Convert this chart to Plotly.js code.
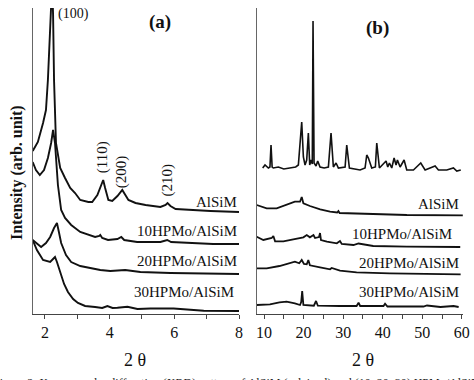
<!DOCTYPE html>
<html>
<head>
<meta charset="utf-8">
<script src="https://cdn.plot.ly/plotly-3.0.1.min.js"></script>
<style>html,body{margin:0;padding:0;background:#fff;}#chart{width:474px;height:380px;}</style>
</head>
<body>
<div id="chart"></div>
<script>
// ---------- Panel (a): low-angle XRD, 2θ 1.6–8 ----------
const a_AlSiM_x = [1.62,1.78,1.94,2.03,2.09,2.15,2.20,2.22,2.25,2.28,2.34,2.47,2.62,2.78,2.93,3.09,3.34,3.46,3.62,3.71,3.80,3.86,3.96,4.08,4.24,4.39,4.48,4.58,4.80,5.11,5.57,5.73,5.79,5.88,6.04,6.50,7.12,8.00];
const a_AlSiM_y = [163,172,191,204,234,274,310,330,300,234,171,146,136,126,121,114,112,112,119,126,134,126,114,113,118,124,119,114,111,109,107,109,111,108,105,104,103,102];

const a_10_x = [1.62,1.72,1.84,1.97,2.09,2.19,2.25,2.31,2.40,2.50,2.62,2.81,3.09,3.34,3.55,3.68,3.71,3.77,3.95,4.24,4.36,4.45,4.85,5.57,5.70,5.78,5.90,6.50,7.20,8.00];
const a_10_y = [152,144,139,144,156,171,184,171,129,104,96,89,82,79,77,78,79,76,74,75,77,74,72,72,73,74,72,71,70,70];

const a_20_x = [1.62,1.72,1.88,2.03,2.16,2.28,2.37,2.43,2.50,2.65,2.81,3.09,3.40,3.71,4.02,4.48,4.95,5.88,8.00];
const a_20_y = [74,71,67,71,77,86,91,82,71,59,52,48,46,44,43,44,42,41,40];

const a_30_x = [1.62,1.75,1.94,2.16,2.25,2.31,2.37,2.47,2.59,2.71,2.87,3.02,3.24,3.55,3.77,3.93,4.09,4.24,4.55,4.86,5.26,5.98,6.91,8.00];
const a_30_y = [74,64,54,52,55,57,52,42,30,22,15,11,8,7,6,8,6,6.3,7.3,5,5.5,5.5,3.3,3];

// ---------- Panel (b): wide-angle XRD, 2θ 8–60 ----------
const b_HPMo_x = [9.66,10.25,11.10,11.50,11.77,12.05,12.36,13.62,15.0,16.58,18.0,18.68,19.10,19.53,19.95,20.37,20.79,21.21,21.55,21.89,22.20,22.39,22.65,23.15,23.57,24.16,25.2,26.27,26.94,27.53,28.21,28.80,30.5,30.91,31.58,33.0,34.28,35.54,35.97,36.39,37.23,38.15,38.50,39.17,40.85,41.28,41.70,42.29,42.88,43.38,43.72,44.40,45.41,46.08,47.77,49.62,50.72,53.25,54.09,56.20,57.88,58.73,59.74];
const b_HPMo_y = [146,149,146,147,169,147,146,147,145,146,147,149,167,192,157,149,154,181,149,154,150,293,151,148,153,147,146,147,181,147,151,146,147,169,146,145,144,146,159,156,146,147,171,146,153,147,151,146,156,149,154,147,154,144,144,151,144,148,144,144,146,143,144];

const b_AlSiM_x = [8.15,10.67,13.2,15.7,17.8,19.1,19.53,19.95,21.6,24.2,26.7,28.5,28.8,29.1,31.75,37.6,46.1,60.25];
const b_AlSiM_y = [109,105.7,105.7,109,112.3,112.3,117,110.7,108,104.7,102.3,101.5,103,101,100.7,99.7,99,98.7];

const b_10_x = [8.15,9.83,11.94,12.36,12.8,14.9,17.4,19.95,20.8,21.6,22.5,22.9,23.9,24.16,24.4,25.9,28.4,29.2,29.65,32.6,33.9,37.6,46.1,59.6];
const b_10_y = [77.3,74,76,78,72.7,72.7,74.7,76.7,79,76.7,79,76,77,81,74,72.3,70.7,73,70,69,70.5,68,67.3,67];

const b_20_x = [8.15,10.67,13.9,16.4,17.8,18.9,19.53,20.1,20.8,21.2,21.6,24.16,26.7,27.1,29.2,33.4,41.8,59.7];
const b_20_y = [45.7,45.7,48,50.7,52.3,50.7,54,50,49.7,54,48.7,46.7,44.7,46,43.3,41.7,40.7,39.7];

const b_30_x = [8.15,11.5,13.9,15.7,17.8,19.1,19.4,19.65,19.95,22.6,23.15,23.6,29.2,33.4,33.9,34.3,40.2,40.6,41.2,50.3,51.2,54.6,57.9,59.2];
const b_30_y = [9,9.7,11.7,12.3,10.7,9,12,23,9,8.3,13,8.3,8,8,11.3,8,8,10.3,7.5,7.5,8.5,7,8,7];

// ---------- Text ----------
const a_ticks = [2,3,4,5,6,7,8];
const a_tickText = ['2','','4','','6','','8'];
const b_ticks = [10,15,20,25,30,35,40,45,50,55,60];
const b_tickText = ['10','','20','','30','','40','','50','','60'];
const seriesNamesA = ['AlSiM','10HPMo/AlSiM','20HPMo/AlSiM','30HPMo/AlSiM'];
const seriesNamesB = ['HPMo','AlSiM','10HPMo/AlSiM','20HPMo/AlSiM','30HPMo/AlSiM'];
const peakLabels = ['(100)','(110)','(200)','(210)'];
const xTitle = '2 θ';
const yTitle = 'Intensity (arb. unit)';
const panelLabels = ['(a)','(b)'];
const caption = 'Figure 2. X-ray powder diffraction (XRD) pattern of AlSiM (calcined) and (10, 20, 30) HPMo/AlSiM';

const FONT = 'Liberation Serif';

function tr(x, y, name, xa, ya, w){
  return {x:x, y:y, name:name, type:'scatter', mode:'lines', xaxis:xa, yaxis:ya,
          line:{color:'#111', width:w||1.9}, hoverinfo:'x+y+name', showlegend:false};
}

const traces = [
  tr(a_AlSiM_x, a_AlSiM_y, seriesNamesA[0], 'x', 'y'),
  tr(a_10_x, a_10_y, seriesNamesA[1], 'x', 'y'),
  tr(a_20_x, a_20_y, seriesNamesA[2], 'x', 'y'),
  tr(a_30_x, a_30_y, seriesNamesA[3], 'x', 'y'),
  tr(b_HPMo_x, b_HPMo_y, seriesNamesB[0], 'x2', 'y2', 1.6),
  tr(b_AlSiM_x, b_AlSiM_y, seriesNamesB[1], 'x2', 'y2', 1.8),
  tr(b_10_x, b_10_y, seriesNamesB[2], 'x2', 'y2', 1.8),
  tr(b_20_x, b_20_y, seriesNamesB[3], 'x2', 'y2', 1.8),
  tr(b_30_x, b_30_y, seriesNamesB[4], 'x2', 'y2', 1.8)
];

const ann = [];
function lab(text, x, y, xref, yref, opts){
  ann.push(Object.assign({text:text, x:x, y:y, xref:xref, yref:yref, showarrow:false,
    font:{family:FONT, size:15, color:'#111'}, xanchor:'right', yanchor:'middle'}, opts||{}));
}
// panel (a) series labels
lab(seriesNamesA[0], 7.99, 112, 'x', 'y');
lab(seriesNamesA[1], 7.99, 83, 'x', 'y');
lab(seriesNamesA[2], 7.99, 53, 'x', 'y');
lab(seriesNamesA[3], 7.92, 22, 'x', 'y');
// panel (b) series labels
lab(seriesNamesB[0], 60.8, 164, 'x2', 'y2');
lab(seriesNamesB[1], 59.7, 110, 'x2', 'y2');
lab(seriesNamesB[2], 57.9, 80, 'x2', 'y2');
lab(seriesNamesB[3], 59.7, 51, 'x2', 'y2');
lab(seriesNamesB[4], 59.7, 22, 'x2', 'y2');
// peak indices
lab(peakLabels[0], 2.33, 300, 'x', 'y', {xanchor:'left', font:{family:FONT, size:14, color:'#111'}});
lab(peakLabels[1], 3.80, 157, 'x', 'y', {xanchor:'center', textangle:-90, font:{family:FONT, size:15, color:'#111'}});
lab(peakLabels[2], 4.39, 142, 'x', 'y', {xanchor:'center', textangle:-90, font:{family:FONT, size:15, color:'#111'}});
lab(peakLabels[3], 5.79, 134, 'x', 'y', {xanchor:'center', textangle:-90, font:{family:FONT, size:15, color:'#111'}});
// panel letters
lab(panelLabels[0], 160/474, 1-22/380, 'paper', 'paper', {xanchor:'center', font:{family:FONT, size:19, color:'#111', weight:'bold'}});
lab(panelLabels[1], 377/474, 1-28/380, 'paper', 'paper', {xanchor:'center', font:{family:FONT, size:19, color:'#111', weight:'bold'}});
// axis titles
lab(xTitle, 135/474, 1-360/380, 'paper', 'paper', {xanchor:'center', font:{family:FONT, size:18, color:'#111'}});
lab(xTitle, 363/474, 1-360/380, 'paper', 'paper', {xanchor:'center', font:{family:FONT, size:18, color:'#111'}});
lab(yTitle, 17/474, 1-173/380, 'paper', 'paper', {xanchor:'center', textangle:-90, font:{family:FONT, size:16, color:'#111', weight:'bold'}});
// caption (cut off at bottom, as in the source figure)
lab(caption, 0.5, 1-374/380, 'paper', 'paper', {xanchor:'center', yanchor:'top', font:{family:FONT, size:12, color:'#222'}});

const xCommon = {showline:true, linecolor:'#444', linewidth:1, ticks:'outside', ticklen:4, tickwidth:1,
  tickcolor:'#444', tickmode:'array', showgrid:false, zeroline:false, mirror:false,
  tickfont:{family:FONT, size:16, color:'#111'}, fixedrange:true};
const yCommon = {showline:true, linecolor:'#666', linewidth:1, ticks:'', showticklabels:false,
  showgrid:false, zeroline:false, range:[0,306], domain:[1-314/380, 1-8/380], fixedrange:true};

const layout = {
  width:474, height:380,
  margin:{l:0, r:0, t:0, b:0},
  paper_bgcolor:'#fff', plot_bgcolor:'#fff',
  showlegend:false,
  font:{family:FONT},
  xaxis: Object.assign({}, xCommon, {domain:[32.7/474, 239/474], range:[1.62, 8.0], tickvals:a_ticks, ticktext:a_tickText, anchor:'y'}),
  yaxis: Object.assign({}, yCommon, {anchor:'x'}),
  xaxis2: Object.assign({}, xCommon, {domain:[256.7/474, 463/474], range:[8.15, 60.3], tickvals:b_ticks, ticktext:b_tickText, anchor:'y2'}),
  yaxis2: Object.assign({}, yCommon, {anchor:'x2'}),
  annotations: ann
};

Plotly.newPlot('chart', traces, layout, {staticPlot:true, displayModeBar:false});
</script>
</body>
</html>
